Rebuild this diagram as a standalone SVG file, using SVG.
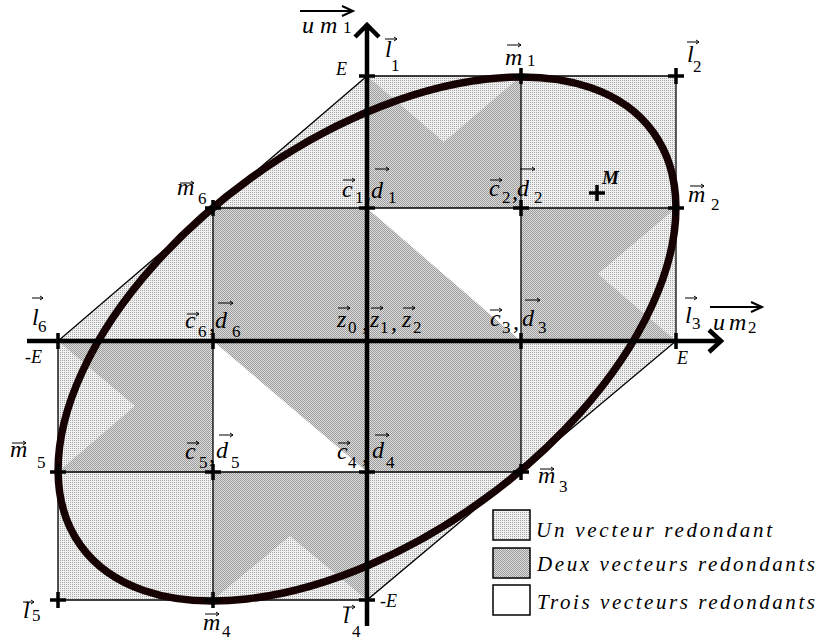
<svg xmlns="http://www.w3.org/2000/svg" width="821" height="642" viewBox="0 0 821 642">
<defs>
<pattern id="pl" width="2" height="2" patternUnits="userSpaceOnUse"><rect width="2" height="2" fill="#f0f0f0"/><rect width="1" height="1" fill="#a8a8a8"/></pattern>
<pattern id="pd" width="2" height="2" patternUnits="userSpaceOnUse"><rect width="2" height="2" fill="#dedede"/><rect width="1" height="1" fill="#9a9a9a"/><rect x="1" y="1" width="1" height="1" fill="#9a9a9a"/></pattern>
<path id="cr" d="M-8,0H8M0,-8V8" stroke="#000" stroke-width="3.5" fill="none"/>
</defs>
<style>
.v{font-family:"Liberation Serif","Times New Roman",serif;font-style:italic;font-size:24px;fill:#000}
.s{font-family:"Liberation Serif","Times New Roman",serif;font-size:17px;fill:#000}
.e{font-family:"Liberation Serif","Times New Roman",serif;font-style:italic;font-size:18px;fill:#000}
.lg{font-family:"Liberation Serif","Times New Roman",serif;font-style:italic;font-size:21px;fill:#000}
.ar{stroke:#000;stroke-width:1;fill:none}
.g{stroke:#000;stroke-width:1.3;fill:none}
.ax{stroke:#000;stroke-width:4.5;fill:none}
</style>
<rect width="821" height="642" fill="#fff"/>
<g id="shading">
<polygon points="367,76 676,76 676,341 367,600 58,600 58,341" fill="url(#pl)"/>
<polygon points="367,76 444,142 521,76 521,208 367,208" fill="url(#pd)"/>
<polygon points="213,208 367,208 521,341 521,472 367,472 213,341" fill="url(#pd)"/>
<polygon points="521,208 676,208 598,274 676,341 521,341" fill="url(#pd)"/>
<polygon points="58,341 213,341 213,472 58,472 135,406" fill="url(#pd)"/>
<polygon points="213,472 367,472 367,600 290,536 213,600" fill="url(#pd)"/>
<polygon points="367,208 521,208 521,341" fill="#fff"/>
<polygon points="213,341 213,472 367,472" fill="#fff"/>
</g>
<g id="connectors">
<path class="g" d="M367,76H676V341L367,600H58V341L367,76"/>
<path class="g" d="M213,208H676M58,472H521M213,208V600M521,76V472"/>
<ellipse cx="367" cy="339" rx="353.1" ry="198.5" transform="rotate(-35.85 367 339)" fill="none" stroke="#160202" stroke-width="7.5"/>
<path class="ax" d="M367,626V25M355,37L367,25L379,37"/>
<path class="ax" d="M27,341H721M709,330L721,341L709,352"/>
<path stroke="#000" stroke-width="2" fill="none" d="M300,11H352M342,6L353,11L342,16"/>
<path stroke="#000" stroke-width="2" fill="none" d="M710,307H762M751,302L762,307L751,312"/>
</g>
<g id="axis-labels">
<text class="v" x="302" y="33">u</text><text class="v" x="320" y="33">m</text><text class="s" x="343" y="33">1</text>
<text class="v" x="713" y="330">u</text><text class="v" x="729" y="330">m</text><text class="s" x="748" y="333">2</text>
<text class="e" x="336" y="75">E</text>
<text class="e" x="25" y="363">-E</text>
<text class="e" x="677" y="364">E</text>
<text class="e" x="380" y="607">-E</text>
</g>
<g id="l1"><use href="#cr" x="367" y="76"/><text class="v" x="385" y="57">l</text><text class="s" x="391" y="71">1</text><path class="ar" d="M385,39H397M394,37L397,39L394,41"/></g>
<g id="l2"><use href="#cr" x="676" y="76"/><text class="v" x="687" y="62">l</text><text class="s" x="693" y="72">2</text><path class="ar" d="M687,42H699M696,40L699,42L696,44"/></g>
<g id="l3"><use href="#cr" x="676" y="341"/><text class="v" x="685" y="323">l</text><text class="s" x="692" y="329">3</text><path class="ar" d="M685,298H697M694,296L697,298L694,300"/></g>
<g id="l4"><use href="#cr" x="367" y="600"/><text class="v" x="343" y="623">l</text><text class="s" x="352" y="637">4</text><path class="ar" d="M343,607H355M352,605L355,607L352,609"/></g>
<g id="l5"><use href="#cr" x="58" y="600"/><text class="v" x="23" y="618">l</text><text class="s" x="32" y="621">5</text><path class="ar" d="M23,602H34M31,600L34,602L31,604"/></g>
<g id="l6"><use href="#cr" x="58" y="341"/><text class="v" x="32" y="325">l</text><text class="s" x="38" y="332">6</text><path class="ar" d="M32,298H43M40,296L43,298L40,300"/></g>
<g id="m1"><use href="#cr" x="521" y="76"/><text class="v" x="505" y="65">m</text><text class="s" x="527" y="66">1</text><path class="ar" d="M507,45H521M518,43L521,45L518,47"/></g>
<g id="m2"><use href="#cr" x="676" y="208"/><text class="v" x="688" y="202">m</text><text class="s" x="711" y="210">2</text><path class="ar" d="M690,186H704M701,184L704,186L701,188"/></g>
<g id="m3"><use href="#cr" x="521" y="472"/><text class="v" x="538" y="483">m</text><text class="s" x="559" y="492">3</text><path class="ar" d="M540,469H554M551,467L554,469L551,471"/></g>
<g id="m4"><use href="#cr" x="213" y="600"/><text class="v" x="203" y="630">m</text><text class="s" x="222" y="637">4</text><path class="ar" d="M205,614H219M216,612L219,614L216,616"/></g>
<g id="m5"><use href="#cr" x="58" y="472"/><text class="v" x="10" y="457">m</text><text class="s" x="37" y="468">5</text><path class="ar" d="M12,443H26M23,441L26,443L23,445"/></g>
<g id="m6"><use href="#cr" x="213" y="208"/><text class="v" x="177" y="195">m</text><text class="s" x="198" y="204">6</text><path class="ar" d="M180,183H194M191,181L194,183L191,185"/></g>
<g id="cd1"><use href="#cr" x="367" y="208"/><text class="v" x="342" y="197">c</text><text class="s" x="355" y="203">1</text><text class="v" x="365" y="199">,</text><text class="v" x="371" y="198">d</text><text class="s" x="388" y="203">1</text><path class="ar" d="M343,180H355M352,178L355,180L352,182M375,169H389M386,167L389,169L386,171"/></g>
<g id="cd2"><use href="#cr" x="521" y="208"/><text class="v" x="489" y="196">c</text><text class="s" x="502" y="203">2</text><text class="v" x="512" y="199">,</text><text class="v" x="517" y="196">d</text><text class="s" x="534" y="203">2</text><path class="ar" d="M490,180H502M499,178L502,180L499,182M520,169H535M532,167L535,169L532,171"/></g>
<g id="cd3"><use href="#cr" x="521" y="341"/><text class="v" x="490" y="326">c</text><text class="s" x="502" y="333">3</text><text class="v" x="513" y="329">,</text><text class="v" x="522" y="326">d</text><text class="s" x="538" y="333">3</text><path class="ar" d="M490,310H502M499,308L502,310L499,312M525,300H540M537,298L540,300L537,302"/></g>
<g id="cd4"><use href="#cr" x="367" y="472"/><text class="v" x="337" y="459">c</text><text class="s" x="348" y="468">4</text><text class="v" x="362" y="462">,</text><text class="v" x="372" y="458">d</text><text class="s" x="386" y="468">4</text><path class="ar" d="M338,443H350M347,441L350,443L347,445M375,435H389M386,433L389,435L386,437"/></g>
<g id="cd5"><use href="#cr" x="213" y="472"/><text class="v" x="185" y="459">c</text><text class="s" x="199" y="468">5</text><text class="v" x="209" y="462">,</text><text class="v" x="216" y="458">d</text><text class="s" x="231" y="468">5</text><path class="ar" d="M187,443H199M196,441L199,443L196,445M219,435H233M230,433L233,435L230,437"/></g>
<g id="cd6"><use href="#cr" x="213" y="341"/><text class="v" x="185" y="328">c</text><text class="s" x="198" y="337">6</text><text class="v" x="209" y="331">,</text><text class="v" x="215" y="328">d</text><text class="s" x="232" y="337">6</text><path class="ar" d="M187,314H199M196,312L199,314L196,316M218,303H233M230,301L233,303L230,305"/></g>
<g id="z"><text class="v" x="337" y="327">z</text><text class="s" x="348" y="333">0</text><text class="v" x="362" y="330">,</text><text class="v" x="370" y="327">z</text><text class="s" x="380" y="333">1</text><text class="v" x="391" y="330">,</text><text class="v" x="402" y="327">z</text><text class="s" x="413" y="333">2</text><path class="ar" d="M338,308H350M347,306L350,308L347,310M371,308H383M380,306L383,308L380,310M403,308H415M412,306L415,308L412,310"/></g>
<g id="M"><use href="#cr" x="597" y="193"/><text x="602" y="184" style="font-family:'Liberation Serif',serif;font-style:italic;font-weight:bold;font-size:19px">M</text></g>
<g id="legend">
<rect x="493" y="510" width="37" height="30" fill="url(#pl)" stroke="#000" stroke-width="1.5"/>
<rect x="493" y="548" width="37" height="30" fill="url(#pd)" stroke="#000" stroke-width="1.5"/>
<rect x="493" y="585" width="37" height="30" fill="#fff" stroke="#000" stroke-width="1.5"/>
<text class="lg" x="536" y="537" textLength="236" lengthAdjust="spacing">Un vecteur redondant</text>
<text class="lg" x="537" y="571" textLength="278" lengthAdjust="spacing">Deux vecteurs redondants</text>
<text class="lg" x="537" y="609" textLength="278" lengthAdjust="spacing">Trois vecteurs redondants</text>
</g>
</svg>
